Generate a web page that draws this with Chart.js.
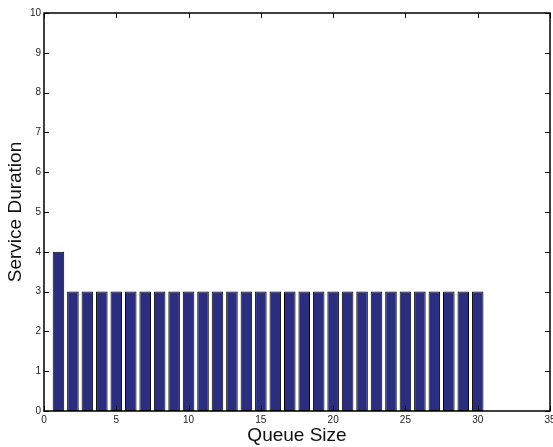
<!DOCTYPE html>
<html><head><meta charset="utf-8">
<script src="https://cdn.jsdelivr.net/npm/chart.js@4/dist/chart.umd.min.js"></script>
<style>html,body{margin:0;padding:0;background:#fff}#wrap{width:553px;height:447px}</style>
</head><body><div id="wrap"><canvas id="c" width="553" height="447"></canvas></div>
<script>
const queueSizes = [1,2,3,4,5,6,7,8,9,10,11,12,13,14,15,16,17,18,19,20,21,22,23,24,25,26,27,28,29,30];
const serviceDurations = [4,3,3,3,3,3,3,3,3,3,3,3,3,3,3,3,3,3,3,3,3,3,3,3,3,3,3,3,3,3];
const xTicks = [0,5,10,15,20,25,30,35];
const yTicks = [0,1,2,3,4,5,6,7,8,9,10];

const boxPlugin = {
  id: 'box',
  afterDraw(chart) {
    const ctx = chart.ctx, a = chart.chartArea, xs = chart.scales.x, ys = chart.scales.y;
    ctx.save();
    ctx.strokeStyle = '#000';
    ctx.lineWidth = 1;
    ctx.beginPath();
    xTicks.forEach(v => {
      const p = Math.round(xs.getPixelForValue(v)) + 0.5;
      ctx.moveTo(p, a.bottom); ctx.lineTo(p, a.bottom - 5);
      ctx.moveTo(p, a.top); ctx.lineTo(p, a.top + 5);
    });
    yTicks.forEach(v => {
      const p = Math.round(ys.getPixelForValue(v)) + 0.5;
      ctx.moveTo(a.left, p); ctx.lineTo(a.left + 5, p);
      ctx.moveTo(a.right, p); ctx.lineTo(a.right - 5, p);
    });
    ctx.stroke();
    ctx.lineWidth = 1.5;
    ctx.strokeRect(a.left, a.top, a.right - a.left, a.bottom - a.top);
    ctx.restore();
  }
};

new Chart(document.getElementById('c'), {
  type: 'bar',
  data: {
    datasets: [{
      data: queueSizes.map((q, i) => ({x: q, y: serviceDurations[i]})),
      backgroundColor: '#2b2e7f',
      borderColor: '#000000',
      borderWidth: 1,
      borderSkipped: false,
      categoryPercentage: 1,
      barPercentage: 0.8
    }]
  },
  options: {
    responsive: false,
    animation: false,
    events: [],
    layout: { padding: { left: 4, right: 3, top: 13, bottom: 0 } },
    plugins: { legend: { display: false }, tooltip: { enabled: false } },
    scales: {
      x: {
        type: 'linear', min: 0, max: 35, offset: false,
        grid: { display: false, drawTicks: false, offset: false },
        border: { display: false },
        afterBuildTicks: s => { s.ticks = xTicks.map(v => ({value: v})); },
        ticks: { color: '#222', font: { family: 'Liberation Sans', size: 10 }, padding: 3, maxRotation: 0, autoSkip: false },
        title: { display: true, text: 'Queue Size', color: '#111', font: { family: 'Liberation Sans', size: 19 }, padding: { top: 2, bottom: 0 } },
        afterFit: s => { s.height = 36; s.paddingRight = 0; s.paddingLeft = 0; }
      },
      y: {
        min: 0, max: 10,
        grid: { display: false, drawTicks: false },
        border: { display: false },
        afterBuildTicks: s => { s.ticks = yTicks.map(v => ({value: v})); },
        ticks: { color: '#222', font: { family: 'Liberation Sans', size: 10 }, padding: 3, autoSkip: false },
        title: { display: true, text: 'Service Duration', color: '#111', font: { family: 'Liberation Sans', size: 19 }, padding: { top: 0, bottom: 2 } },
        afterFit: s => { s.width = 40; s.paddingTop = 0; s.paddingBottom = 0; }
      }
    }
  },
  plugins: [boxPlugin]
});
</script></body></html>
